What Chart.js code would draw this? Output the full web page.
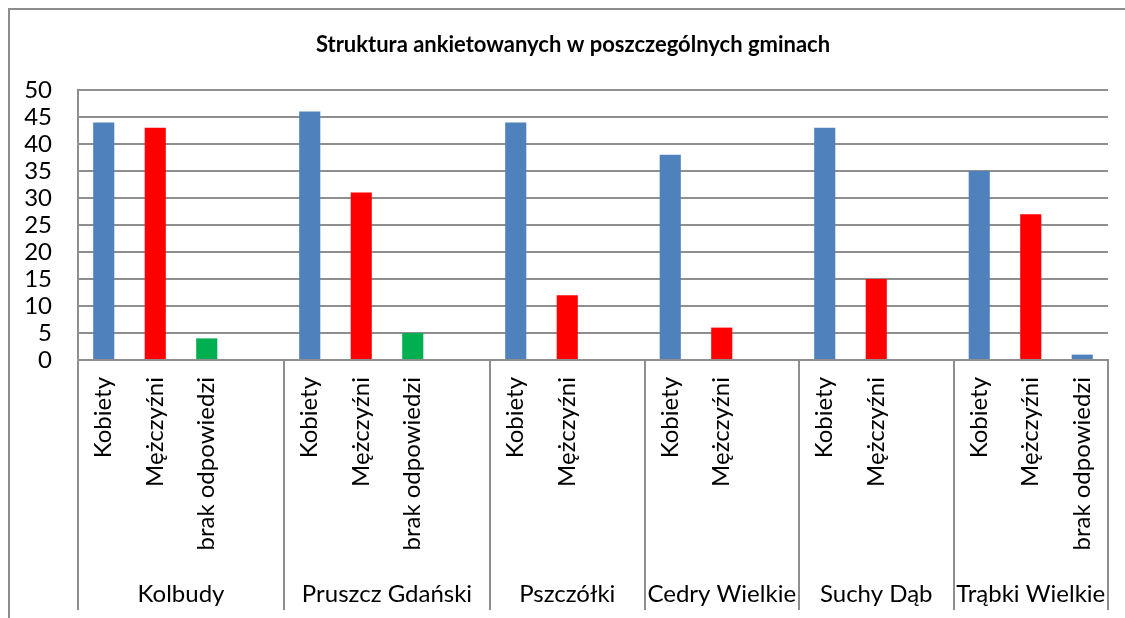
<!DOCTYPE html>
<html>
<head>
<meta charset="utf-8">
<script src="https://cdn.jsdelivr.net/npm/chart.js@4/dist/chart.umd.min.js"></script>
<style>
html,body{margin:0;padding:0;background:#fff;}
#wrap{width:1125px;height:618px;position:relative;}
canvas{display:block;}
</style>
</head>
<body>
<div id="wrap"><canvas id="c" width="1125" height="618"></canvas></div>
<script>
// ---- data ----
const title = 'Struktura ankietowanych w poszczególnych gminach';
const groups = ['Kolbudy', 'Pruszcz Gdański', 'Pszczółki', 'Cedry Wielkie', 'Suchy Dąb', 'Trąbki Wielkie'];
const slotsPerGroup = [4, 4, 3, 3, 3, 3];
const seriesNames = ['Kobiety', 'Mężczyźni', 'brak odpowiedzi'];
const kobiety = [44, 46, 44, 38, 43, 35];
const mezczyzni = [43, 31, 12, 6, 15, 27];
const brakOdpowiedzi = [4, 5, null, null, null, 1];
const yTicks = [0, 5, 10, 15, 20, 25, 30, 35, 40, 45, 50];

// ---- styles ----
const colKobiety = '#4F81BD';
const colMezczyzni = '#FF0000';
const colBrak = ['#00B050', '#00B050', '#00B050', '#00B050', '#00B050', '#4F81BD'];
const gridColor = '#8E8E8E';
const FONT = 'Lato, "Open Sans", sans-serif';
const FS = 24;

// ---- build flat category list ----
const labels = [], values = [], colors = [];
groups.forEach((g, gi) => {
  const items = [
    [seriesNames[0], kobiety[gi], colKobiety],
    [seriesNames[1], mezczyzni[gi], colMezczyzni]
  ];
  if (brakOdpowiedzi[gi] !== null) items.push([seriesNames[2], brakOdpowiedzi[gi], colBrak[gi]]);
  while (items.length < slotsPerGroup[gi]) items.push(['', null, 'rgba(0,0,0,0)']);
  items.forEach(it => { labels.push(it[0]); values.push(it[1]); colors.push(it[2]); });
});

const PLOT_LEFT = 78, PLOT_RIGHT = 1108, PLOT_TOP = 90, PLOT_BOTTOM = 360, AXIS_BOTTOM = 610;

const decor = {
  id: 'decor',
  beforeDraw(chart) {
    const ctx = chart.ctx;
    ctx.save();
    ctx.fillStyle = '#fff';
    ctx.fillRect(0, 0, chart.width, chart.height);
    ctx.strokeStyle = '#8C8C8C';
    ctx.lineWidth = 2;
    ctx.strokeRect(9, 9, 1300, 800);
    ctx.fillStyle = '#000';
    ctx.font = 'bold 22px ' + FONT;
    ctx.textAlign = 'center';
    ctx.textBaseline = 'middle';
    ctx.fillText(title, 573, 45);
    ctx.restore();
  },
  afterDraw(chart) {
    const ctx = chart.ctx;
    const xs = chart.scales.x;
    const w = xs.getPixelForValue(1) - xs.getPixelForValue(0);
    ctx.save();
    ctx.strokeStyle = gridColor;
    ctx.lineWidth = 2;
    let start = 0;
    const bounds = [];
    groups.forEach((g, gi) => {
      const left = xs.getPixelForValue(start) - w / 2;
      const right = xs.getPixelForValue(start + slotsPerGroup[gi] - 1) + w / 2;
      bounds.push([left, right]);
      start += slotsPerGroup[gi];
    });
    const xsLines = [bounds[0][0]].concat(bounds.map(b => b[1]));
    xsLines.forEach(x => {
      ctx.beginPath();
      ctx.moveTo(Math.round(x), chart.chartArea.bottom);
      ctx.lineTo(Math.round(x), AXIS_BOTTOM);
      ctx.stroke();
    });
    ctx.fillStyle = '#000';
    ctx.font = FS + 'px ' + FONT;
    ctx.textAlign = 'center';
    ctx.textBaseline = 'middle';
    groups.forEach((g, gi) => {
      ctx.fillText(g, (bounds[gi][0] + bounds[gi][1]) / 2, 594);
    });
    ctx.restore();
  }
};

new Chart(document.getElementById('c'), {
  type: 'bar',
  data: {
    labels: labels,
    datasets: [{
      data: values,
      backgroundColor: colors,
      borderWidth: 0,
      barPercentage: 0.41,
      categoryPercentage: 1
    }]
  },
  options: {
    responsive: false,
    animation: false,
    devicePixelRatio: 1,
    layout: { padding: { top: PLOT_TOP, left: 0, right: 1125 - PLOT_RIGHT, bottom: 618 - AXIS_BOTTOM } },
    plugins: { legend: { display: false }, tooltip: { enabled: false }, title: { display: false } },
    scales: {
      x: {
        grid: { display: false, drawTicks: false },
        border: { display: true, color: gridColor, width: 2 },
        ticks: {
          autoSkip: false, minRotation: 90, maxRotation: 90, padding: 17,
          color: '#000', font: { family: FONT, size: FS }
        },
        afterFit(s) {
          s.height = AXIS_BOTTOM - PLOT_BOTTOM;
          s.paddingLeft = 0; s.paddingRight = 0;
        }
      },
      y: {
        min: 0, max: 50,
        afterBuildTicks(s) { s.ticks = yTicks.map(v => ({ value: v })); },
        grid: { color: gridColor, lineWidth: 2, drawTicks: false },
        border: { display: true, color: gridColor, width: 2 },
        ticks: { autoSkip: false, padding: 26, color: '#000', font: { family: FONT, size: FS } },
        afterFit(s) { s.width = PLOT_LEFT; s.paddingTop = 0; s.paddingBottom = 0; }
      }
    }
  },
  plugins: [decor]
});
</script>
</body>
</html>
